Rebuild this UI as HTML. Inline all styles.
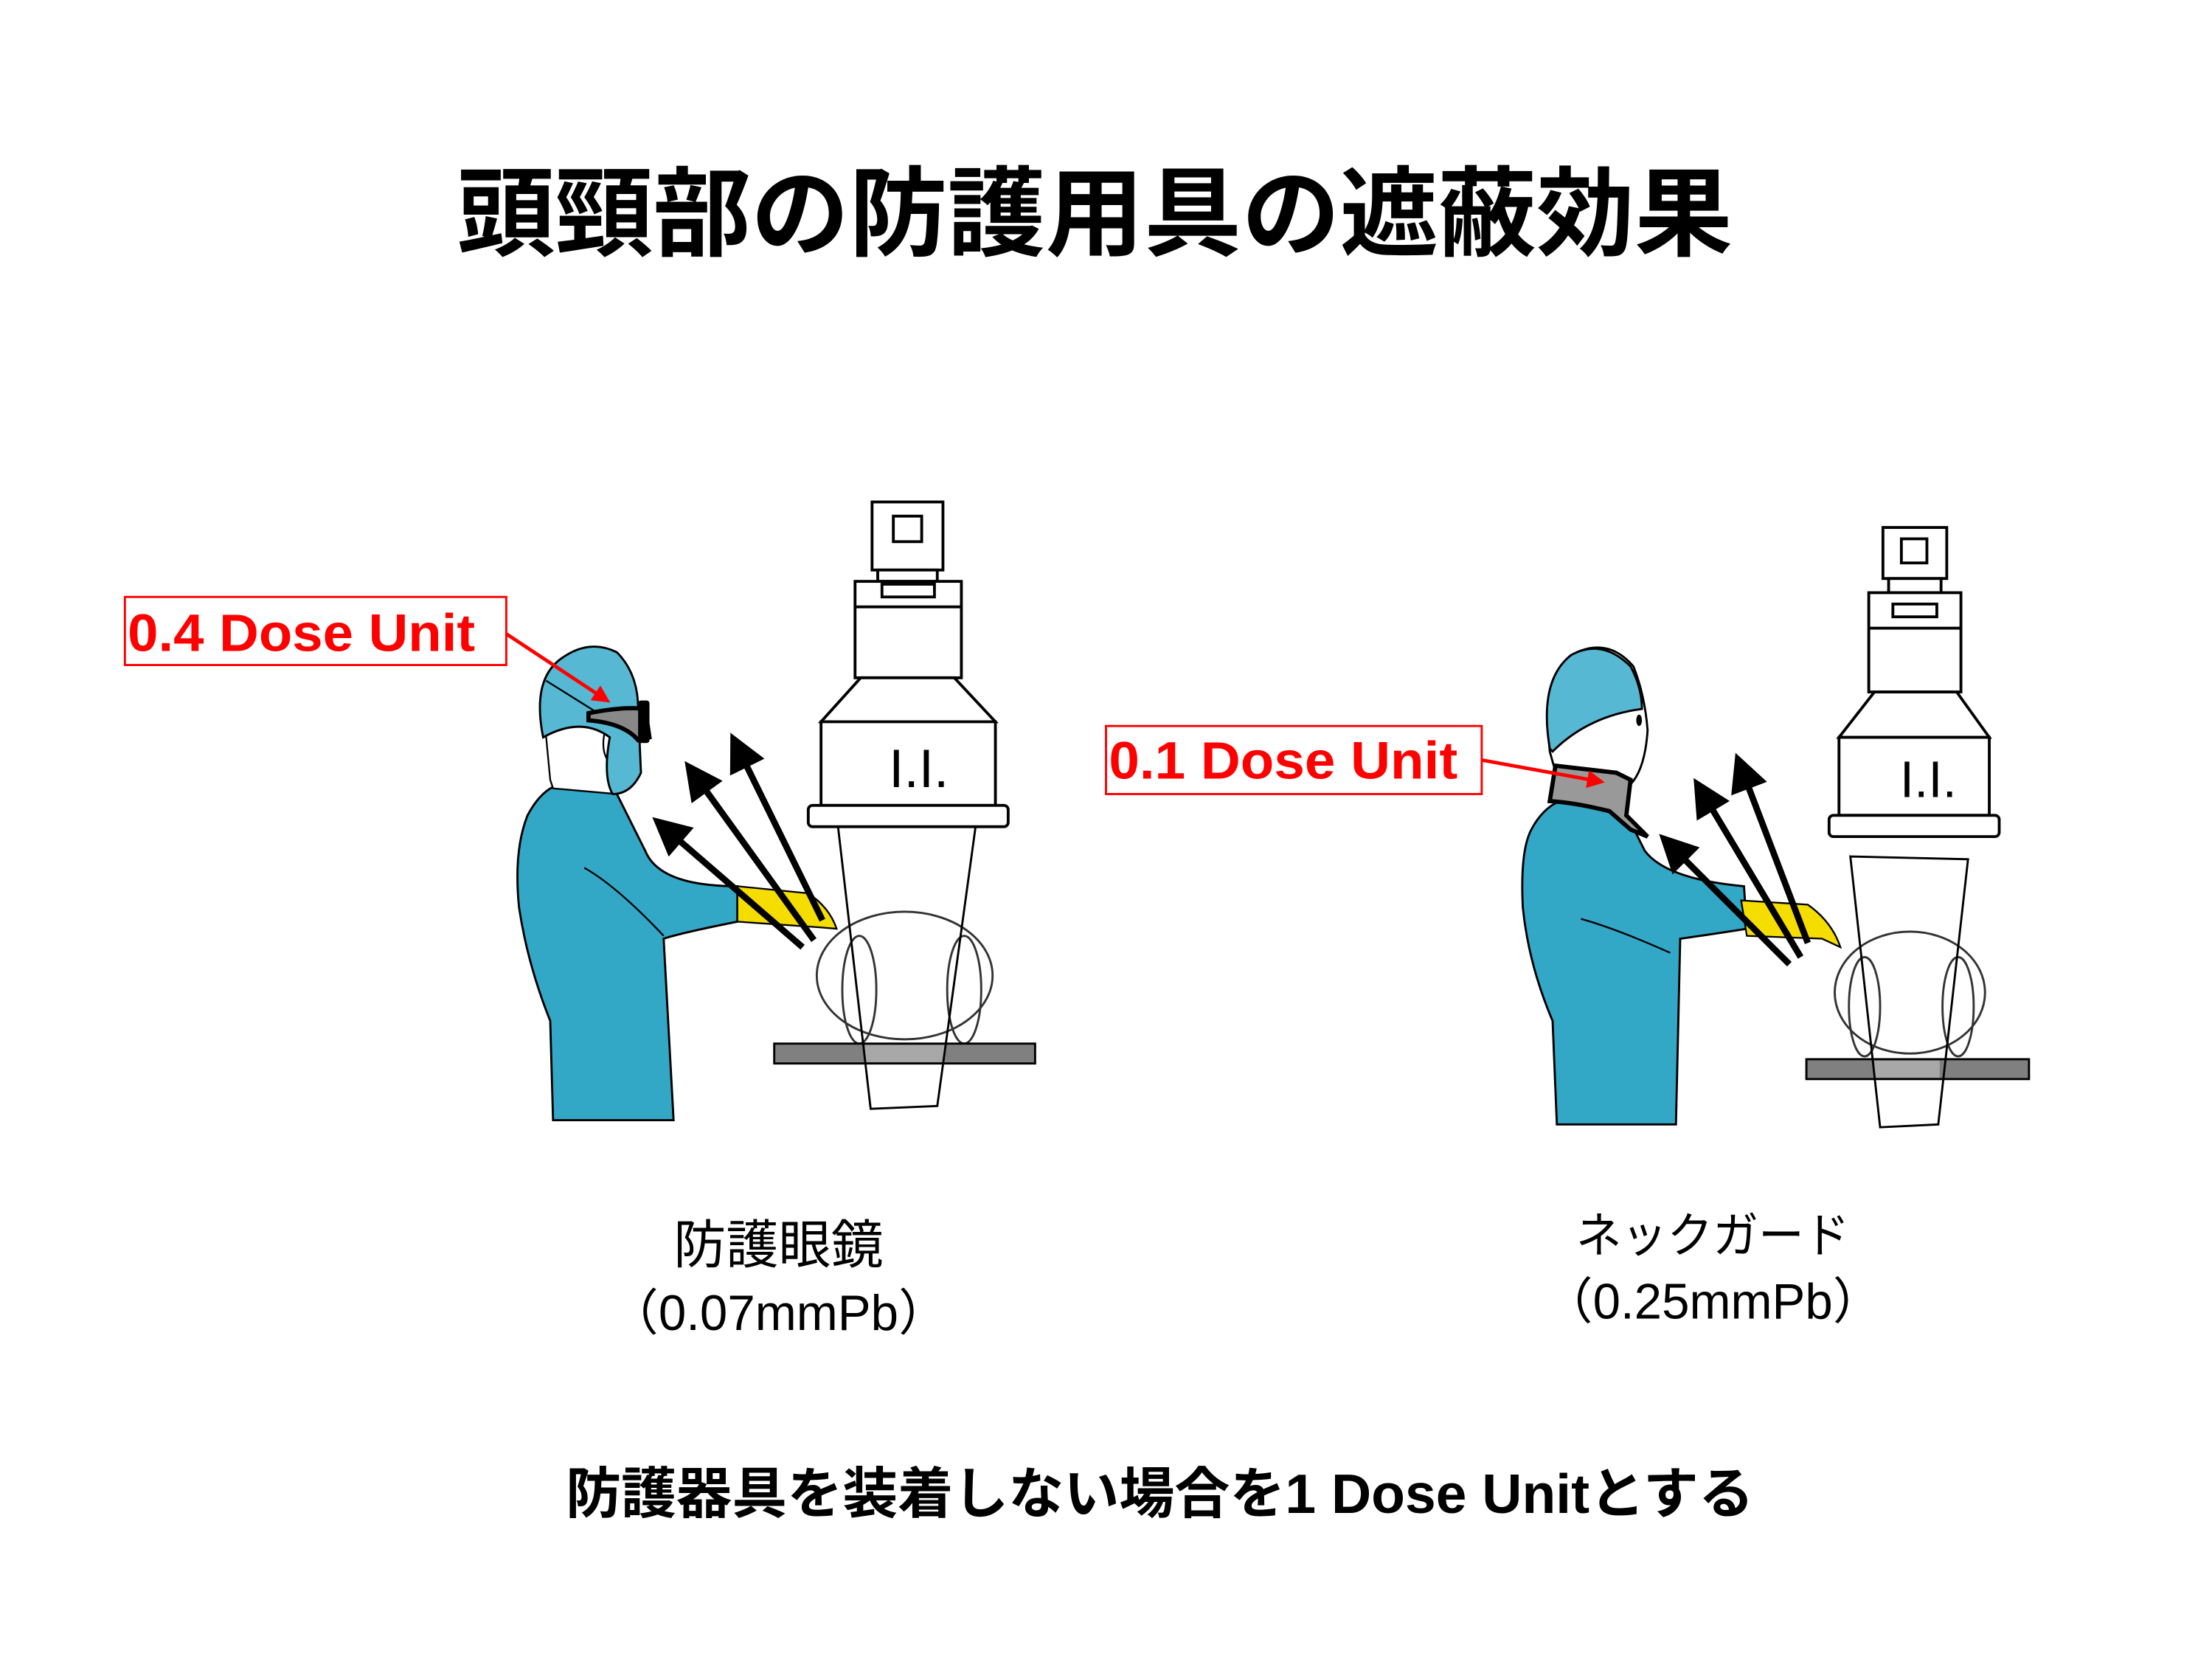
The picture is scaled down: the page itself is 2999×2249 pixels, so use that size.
<!DOCTYPE html>
<html><head><meta charset="utf-8"><style>
html,body{margin:0;padding:0;background:#fff;}
svg{display:block;}
text{font-family:"Liberation Sans","Noto Sans CJK JP",sans-serif;}
</style></head><body>
<svg width="2999" height="2249" viewBox="0 0 1560 1170" xmlns="http://www.w3.org/2000/svg">
<defs>
<marker id="bk" markerWidth="6" markerHeight="6" refX="1" refY="3" orient="auto" markerUnits="strokeWidth"><path d="M0,0 L6,3 L0,6 z" fill="#000"/></marker>
<marker id="rd" markerWidth="5" markerHeight="5" refX="1" refY="2.5" orient="auto" markerUnits="strokeWidth"><path d="M0,0 L5,2.5 L0,5 z" fill="#f00"/></marker>
</defs>
<rect width="1560" height="1170" fill="#fff"/>
<text x="772" y="175" font-size="69" font-weight="bold" text-anchor="middle" textLength="900" lengthAdjust="spacingAndGlyphs">頭頸部の防護用具の遮蔽効果</text>

<!-- ===== LEFT ===== -->
<g stroke="#000" fill="#fff" stroke-width="2">
 <rect x="615" y="354" width="50" height="48"/>
 <rect x="630" y="364" width="20" height="18"/>
 <rect x="619" y="402" width="42" height="8"/>
 <rect x="603" y="410" width="75" height="68"/>
 <rect x="622" y="412" width="37" height="9"/>
 <line x1="603" y1="428" x2="678" y2="428"/>
 <path d="M607,478 L673,478 L702,509 L579,509 Z"/>
 <rect x="579" y="509" width="123" height="59"/>
 <rect x="570" y="568" width="141" height="15" rx="3"/>
</g>
<text x="648" y="555" font-size="38" text-anchor="middle">I.I.</text>
<g fill="none" stroke="#333" stroke-width="1.5">
 <ellipse cx="638" cy="688" rx="62" ry="45" fill="#fff"/>
 <ellipse cx="606" cy="698" rx="12" ry="38"/>
 <ellipse cx="680" cy="698" rx="12" ry="38"/>
</g>
<rect x="546" y="736" width="184" height="14" fill="#808080" stroke="#000" stroke-width="1.5"/>
<rect x="610" y="737" width="56" height="12" fill="#a8a8a8"/>
<path d="M591,583 L688,583 L661,780 L614,782 Z" fill="none" stroke="#000" stroke-width="1.5"/>

<path d="M390,555 Q410,550 435,560 L455,600 Q465,625 520,625 L520,650 Q480,658 468,662 L475,790 L390,790 L388,720 Q372,680 366,640 Q362,600 372,575 Q380,560 390,555 Z" fill="#33a8c6" stroke="#000" stroke-width="1.5"/>
<path d="M412,612 Q435,625 468,660" fill="none" stroke="#000" stroke-width="1.2"/>
<path d="M520,625 L570,630 Q585,640 590,655 L578,654 L520,650 Z" fill="#f5dd00" stroke="#000" stroke-width="1.2"/>
<path d="M384,508 L388,550 L390,556 L435,560 L432,540 Q420,530 430,505 Z" fill="#fff" stroke="#000" stroke-width="1.2"/>
<path d="M383,520 Q375,480 395,465 Q415,450 435,460 Q450,475 450,500 L452,545 Q445,560 432,560 Q425,548 430,520 Q410,505 383,520 Z" fill="#56b8d2" stroke="#000" stroke-width="1.5"/>
<path d="M385,480 L425,505" stroke="#000" stroke-width="1.2"/>
<path d="M415,503 Q440,498 455,500 L458,520 L450,522 Q440,510 415,508 Z" fill="#888" stroke="#000" stroke-width="3"/>
<rect x="450" y="494" width="8" height="30" rx="2" fill="#000"/>

<g stroke="#000" stroke-width="4.5" fill="none">
 <line x1="566" y1="668" x2="477" y2="591" marker-end="url(#bk)"/>
 <line x1="574" y1="663" x2="496" y2="555" marker-end="url(#bk)"/>
 <line x1="580" y1="649" x2="525" y2="537" marker-end="url(#bk)"/>
</g>

<rect x="88" y="421" width="269" height="48" fill="#fff" stroke="#f00" stroke-width="1.5"/>
<text x="90" y="459" font-size="37" font-weight="bold" fill="#f00" textLength="245" lengthAdjust="spacingAndGlyphs">0.4 Dose Unit</text>
<line x1="357" y1="447" x2="422" y2="490" stroke="#f00" stroke-width="2.5" marker-end="url(#rd)"/>

<!-- ===== RIGHT ===== -->
<g stroke="#000" fill="#fff" stroke-width="2">
 <rect x="1328" y="372" width="45" height="36"/>
 <rect x="1341" y="380" width="18" height="17"/>
 <rect x="1332" y="408" width="37" height="10"/>
 <rect x="1318" y="418" width="65" height="70"/>
 <rect x="1335" y="426" width="31" height="9"/>
 <line x1="1318" y1="443" x2="1383" y2="443"/>
 <path d="M1322,488 L1380,488 L1403,520 L1297,520 Z"/>
 <rect x="1297" y="520" width="106" height="55"/>
 <rect x="1290" y="575" width="120" height="15" rx="3"/>
</g>
<text x="1360" y="562" font-size="36" text-anchor="middle">I.I.</text>
<g fill="none" stroke="#333" stroke-width="1.5">
 <ellipse cx="1347" cy="700" rx="53" ry="43" fill="#fff"/>
 <ellipse cx="1315" cy="710" rx="11" ry="35"/>
 <ellipse cx="1381" cy="710" rx="11" ry="35"/>
</g>
<rect x="1274" y="747" width="157" height="14" fill="#808080" stroke="#000" stroke-width="1.5"/>
<rect x="1322" y="748" width="46" height="12" fill="#a8a8a8"/>
<path d="M1305,604 L1388,606 L1367,793 L1326,795 Z" fill="none" stroke="#000" stroke-width="1.5"/>

<path d="M1100,565 L1140,560 L1160,600 Q1175,620 1230,625 L1232,655 Q1200,660 1185,662 L1182,793 L1098,793 L1095,720 Q1078,680 1074,640 Q1072,600 1080,585 Q1088,570 1100,565 Z" fill="#33a8c6" stroke="#000" stroke-width="1.5"/>
<path d="M1115,648 Q1140,655 1178,672" fill="none" stroke="#000" stroke-width="1.2"/>
<path d="M1228,635 L1275,638 Q1292,650 1298,668 L1285,662 L1232,660 Z" fill="#f5dd00" stroke="#000" stroke-width="1.2"/>
<path d="M1093,530 Q1088,475 1112,460 Q1135,450 1152,470 Q1160,490 1162,515 Q1160,545 1148,555 L1100,555 Z" fill="#fff" stroke="#000" stroke-width="1.5"/>
<path d="M1093,528 Q1085,480 1108,462 Q1130,450 1150,470 Q1158,485 1158,500 Q1120,505 1095,530 Z" fill="#56b8d2" stroke="#000" stroke-width="1.5"/>
<ellipse cx="1156" cy="508" rx="2" ry="4" fill="#000"/>
<path d="M1097,540 L1140,545 L1150,550 L1147,575 L1162,590 L1150,585 L1135,572 Q1110,566 1093,565 Z" fill="#999" stroke="#000" stroke-width="3"/>

<g stroke="#000" stroke-width="4.5" fill="none">
 <line x1="1262" y1="680" x2="1186" y2="604" marker-end="url(#bk)"/>
 <line x1="1270" y1="675" x2="1206" y2="568" marker-end="url(#bk)"/>
 <line x1="1275" y1="665" x2="1232" y2="552" marker-end="url(#bk)"/>
</g>

<rect x="780" y="512" width="265" height="48" fill="#fff" stroke="#f00" stroke-width="1.5"/>
<text x="782" y="549" font-size="37" font-weight="bold" fill="#f00" textLength="246" lengthAdjust="spacingAndGlyphs">0.1 Dose Unit</text>
<line x1="1045" y1="536" x2="1122" y2="550" stroke="#f00" stroke-width="2.5" marker-end="url(#rd)"/>

<text x="549" y="891" font-size="37" text-anchor="middle">防護眼鏡</text>
<text x="549" y="938" font-size="35" text-anchor="middle">（0.07mmPb）</text>
<text x="1208" y="883" font-size="34" text-anchor="middle" textLength="193" lengthAdjust="spacingAndGlyphs">ネックガード</text>
<text x="1208" y="930" font-size="35" text-anchor="middle">（0.25mmPb）</text>
<text x="818" y="1067" font-size="39" font-weight="bold" text-anchor="middle" textLength="838" lengthAdjust="spacingAndGlyphs">防護器具を装着しない場合を1 Dose Unitとする</text>
</svg>
</body></html>
